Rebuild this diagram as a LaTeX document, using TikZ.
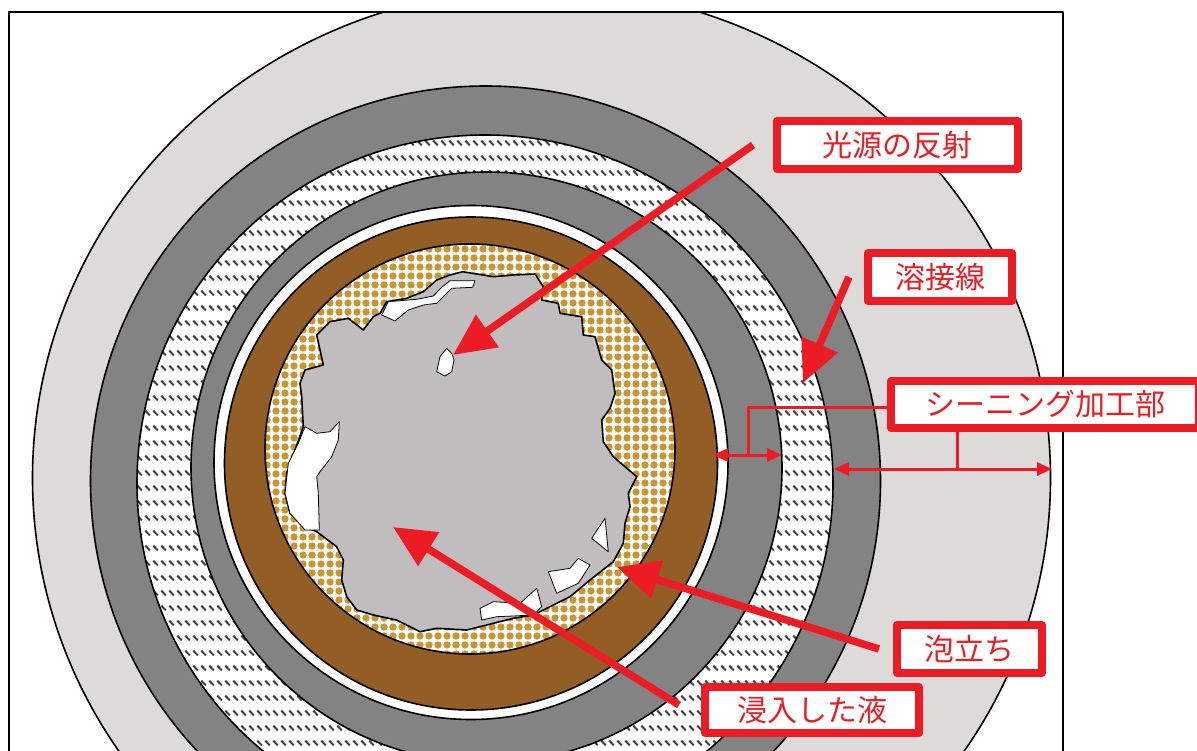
\documentclass[tikz,border=0pt]{standalone}
\usepackage{fontspec}
\usepackage{tikz}
\usetikzlibrary{arrows.meta,patterns}
\newfontfamily\jpfont{Noto Sans CJK JP}
\definecolor{lidgray}{HTML}{DCDBDA}
\definecolor{knurlgray}{HTML}{838383}
\definecolor{hatchgray}{HTML}{404040}
\definecolor{sealbrown}{HTML}{925E26}
\definecolor{foamgold}{HTML}{C99530}
\definecolor{liquidgray}{HTML}{BFBDBE}
\definecolor{markred}{HTML}{ED1C24}

\pgfdeclarepatternformonly{weldhatch}{\pgfpointorigin}{\pgfqpoint{8pt}{15pt}}{\pgfqpoint{8pt}{15pt}}{
  \pgfsetlinewidth{2.2pt}
  \pgfpathmoveto{\pgfqpoint{1.5pt}{11pt}}
  \pgfpathlineto{\pgfqpoint{6.5pt}{6pt}}
  \pgfusepath{stroke}
}
\pgfdeclarepatternformonly{golddots}{\pgfpointorigin}{\pgfqpoint{8.5pt}{8.5pt}}{\pgfqpoint{8.5pt}{8.5pt}}{
  \pgfpathcircle{\pgfqpoint{4.25pt}{4.25pt}}{3.9pt}
  \pgfusepath{fill}
}

\begin{document}
\begin{tikzpicture}[x=1pt, y=-1pt, line join=round,
ring_style/.style={draw=black, ultra thick},
patch_style/.style={draw=black, thick, fill=white},
label_style/.style={draw=markred, line width=8pt, fill=white, text=markred, inner sep=0pt,
  font=\jpfont\fontsize{30}{36}\selectfont, minimum height=48pt},
arrow_style/.style={draw=markred, line width=7.5pt, -{Triangle[length=42pt,width=38pt]}},
dim_style/.style={draw=markred, line width=3pt, {Triangle[length=15pt,width=13pt]}-{Triangle[length=15pt,width=13pt]}},
bracket_style/.style={draw=markred, line width=3pt}]
\useasboundingbox (0,0) rectangle (1197,751);

\begin{scope}
\clip (9,12) rectangle (1063,760);
\draw[ring_style, fill=lidgray] (541.5,478) ellipse[x radius=509pt, y radius=490pt];
\draw[ring_style, fill=knurlgray] (485.5,481) circle[radius=395pt];
\draw[ring_style, preaction={fill=white}, pattern=weldhatch, pattern color=hatchgray] (485,483) circle[radius=348pt];
\draw[ring_style, fill=knurlgray] (486.5,467.5) circle[radius=295.5pt];
\draw[ring_style, fill=white] (471,462.5) circle[radius=257pt];
\draw[ring_style, fill=sealbrown] (471,463.5) circle[radius=246.5pt];
\draw[ring_style, preaction={fill=white}, pattern=golddots, pattern color=foamgold] (470,449) circle[radius=205pt];

\draw[ring_style, fill=liquidgray] (462.7,271.7) -- (493.3,276.7) -- (513.3,275) -- (535,274)
  -- (543.3,286.7) -- (541.7,300) -- (558.3,303.3) -- (560,313.3) -- (581.7,316.7)
  -- (583.3,335) -- (595,336.7) -- (601.7,360) -- (611.7,370) -- (615,393.3)
  -- (610,408.3) -- (601.7,420) -- (603.3,441.7) -- (613.3,456.7) -- (636.7,476.7)
  -- (628.3,493.3) -- (630,506.7) -- (625,523.3) -- (623.3,543.3) -- (613.3,561.7)
  -- (590,580) -- (570,596.7) -- (546.7,608.3) -- (533.3,615) -- (513.3,618.3)
  -- (493.3,623.3) -- (466.7,630) -- (436.7,628.3) -- (420,631.7) -- (396.7,620)
  -- (373.3,615) -- (356.7,610) -- (346.7,596.7) -- (341.7,580) -- (343.3,560)
  -- (336.7,546.7) -- (316.7,531.7) -- (305,526.7) -- (290,513.3) -- (285,493.3)
  -- (286.7,473.3) -- (295,450) -- (303.3,426.7) -- (301.7,396.7) -- (300,383.3)
  -- (305,370) -- (323.3,365) -- (320,350) -- (316.7,335) -- (330,321.7)
  -- (348.3,318.3) -- (363.3,330) -- (373.3,316.7) -- (380,313.3) -- (386.7,301.7)
  -- (406.7,298.3) -- (423.3,291.7) -- (436.7,280) -- (450,275) -- cycle;

\draw[patch_style] (381.7,315) -- (388.3,301.7) -- (416.7,299.3) -- (433.3,296) -- (441.7,287.3)
  -- (450,280.7) -- (475,280.7) -- (472.7,287.3) -- (451.7,288.3) -- (445,295)
  -- (436.7,303.3) -- (423.3,305) -- (408.3,310) -- (395,321) -- cycle;
\draw[patch_style] (436.7,371.7) -- (440,356.7) -- (446.7,348.3) -- (451.7,353.3) -- (454,360)
  -- (451.7,371.7) -- (445,376) -- cycle;
\draw[patch_style] (285,493.3) -- (288.3,463.3) -- (298.3,443.3) -- (305,426.7) -- (316.7,433.3)
  -- (330,431.7) -- (339.3,421.7) -- (338.3,440) -- (331.7,456.7) -- (320,471.7)
  -- (316.7,476.7) -- (318.3,493.3) -- (319.3,530) -- (305,530) -- (290,513.3) -- cycle;
\draw[patch_style] (591.7,538.3) -- (605,518.3) -- (608.3,551.7) -- cycle;
\draw[patch_style] (548.3,571.7) -- (570,568.3) -- (578.3,558.3) -- (590,565) -- (578.3,583.3)
  -- (556.7,593.3) -- cycle;
\draw[patch_style] (480,608.3) -- (493.3,601.7) -- (520,603.3) -- (536.7,588.3) -- (541.7,606.7)
  -- (533.3,615) -- (513.3,616) -- (496.7,616.7) -- (481.7,620) -- cycle;
\end{scope}

\draw[line width=1.5pt] (9,760) -- (9,12) -- (1063,12) -- (1063,760);

\node[label_style, minimum width=241pt] (refl) at (897.5,145) {光源の反射};
\node[label_style, minimum width=144pt] (weld) at (940,277) {溶接線};
\node[label_style, minimum width=308pt, minimum height=47pt] (seam) at (1045,404.5) {シーニング加工部};
\node[label_style, minimum width=145pt] (foam) at (969.5,649) {泡立ち};
\node[label_style, minimum width=214pt, minimum height=46pt] (liquid) at (812,710) {浸入した液};

\coordinate (reflTip) at (453,355);
\coordinate (weldTip) at (803,383);
\coordinate (foamTip) at (617,567);
\coordinate (liquidTip) at (393,527);
\coordinate (dimAl) at (713,455);
\coordinate (dimAr) at (782,455);
\coordinate (dimAm) at (748,455);
\coordinate (dimBl) at (834,469);
\coordinate (dimBr) at (1052,469);
\coordinate (dimBm) at (957,469);

\draw[arrow_style] ([xshift=-20pt]refl.west) -- (reflTip);
\draw[arrow_style] ([xshift=-15pt]weld.west) -- (weldTip);
\draw[arrow_style] ([xshift=-14pt]foam.west) -- (foamTip);
\draw[arrow_style] ([xshift=-22pt,yshift=5pt]liquid.west) -- (liquidTip);

\draw[bracket_style] ([yshift=-2.5pt]seam.west) -| (dimAm);
\draw[bracket_style] (seam.south -| dimBm) -- (dimBm);
\draw[dim_style] (dimAl) -- (dimAr);
\draw[dim_style] (dimBl) -- (dimBr);

\end{tikzpicture}
\end{document}
